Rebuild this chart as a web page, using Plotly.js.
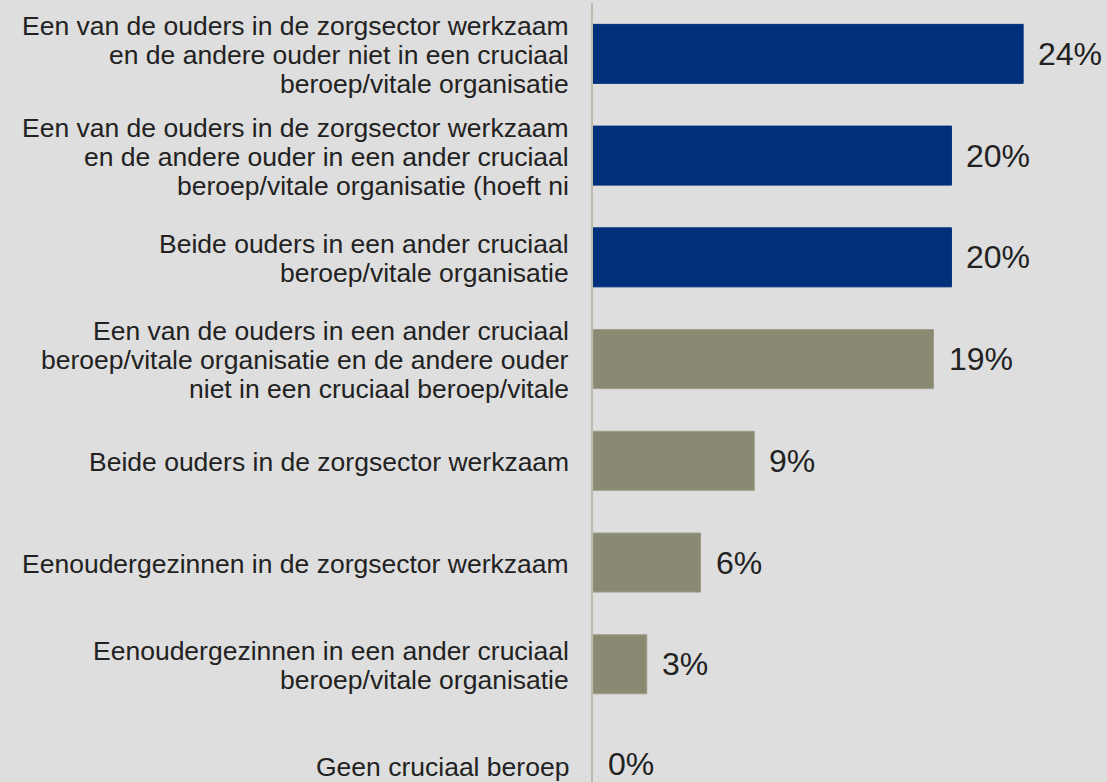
<!DOCTYPE html>
<html>
<head>
<meta charset="utf-8">
<script src="https://cdn.plot.ly/plotly-3.0.1.min.js"></script>
<style>html,body{margin:0;padding:0;background:#dedede;}#chart{width:1107px;height:782px;}</style>
</head>
<body>
<div id="chart"></div>
<script>
const categoryLines = [
  ["Een van de ouders in de zorgsector werkzaam", "en de andere ouder niet in een cruciaal", "beroep/vitale organisatie"],
  ["Een van de ouders in de zorgsector werkzaam", "en de andere ouder in een ander cruciaal", "beroep/vitale organisatie (hoeft ni"],
  ["Beide ouders in een ander cruciaal", "beroep/vitale organisatie"],
  ["Een van de ouders in een ander cruciaal", "beroep/vitale organisatie en de andere ouder", "niet in een cruciaal beroep/vitale"],
  ["Beide ouders in de zorgsector werkzaam"],
  ["Eenoudergezinnen in de zorgsector werkzaam"],
  ["Eenoudergezinnen in een ander cruciaal", "beroep/vitale organisatie"],
  ["Geen cruciaal beroep"]
];
const categories = categoryLines.map(l => l.join(" "));
const values = [24, 20, 20, 19, 9, 6, 3, 0];
const valueLabels = ["24%", "20%", "20%", "19%", "9%", "6%", "3%", "0%"];
const highlight = [true, true, true, false, false, false, false, false];

const navy = "#00307c";
const grey = "#8a8a72";
const FONT = "Liberation Sans, Arial, sans-serif";

const trace = {
  type: "bar",
  orientation: "h",
  x: values,
  y: categories,
  width: 0.58,
  marker: {
    color: highlight.map(h => h ? navy : grey),
    line: {color: values.map((v, i) => v === 0 ? "rgba(0,0,0,0)" : (highlight[i] ? navy : "#9c9c88")), width: 1}
  },
  hoverinfo: "none"
};

const annotations = [];
values.forEach((v, i) => {
  annotations.push({
    x: v, y: categories[i], xref: "x", yref: "y",
    text: valueLabels[i], showarrow: false,
    xanchor: "left", yanchor: "middle", xshift: 13, yshift: (v === 0 ? 2 : 0),
    font: {family: FONT, size: 32, color: "#222222"}
  });
  const lines = categoryLines[i];
  const n = lines.length;
  lines.forEach((t, j) => {
    annotations.push({
      x: 0, xref: "paper", y: categories[i], yref: "y",
      text: t, showarrow: false,
      xanchor: "right", yanchor: "middle", xshift: -22,
      yshift: ((n - 1) / 2 - j) * 29 - 1,
      font: {family: FONT, size: 26.5, color: "#222222"}
    });
  });
});

const layout = {
  width: 1107, height: 782,
  paper_bgcolor: "#dedede", plot_bgcolor: "#dedede",
  margin: {l: 593, r: 0, t: 3, b: 0},
  showlegend: false,
  xaxis: {range: [0, 28.68], visible: false, fixedrange: true},
  yaxis: {
    type: "category",
    range: [7.157, -0.5],
    showline: true, linecolor: "#bcbcac", linewidth: 2,
    showgrid: false, zeroline: false,
    showticklabels: false, ticks: "",
    automargin: false
  },
  annotations: annotations
};

Plotly.newPlot("chart", [trace], layout, {displayModeBar: false, staticPlot: true});
</script>
</body>
</html>
